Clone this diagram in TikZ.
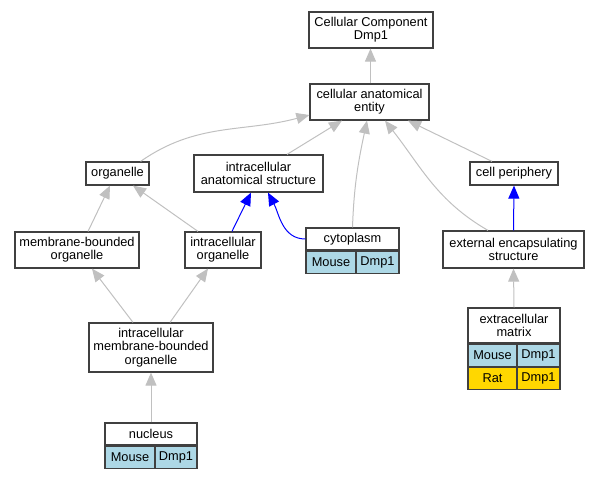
\documentclass[tikz,border=0pt]{standalone}
\usepackage{fontspec}
\setmainfont{Liberation Sans}
\usetikzlibrary{arrows.meta}
\definecolor{cellblue}{HTML}{ADD8E6}
\definecolor{cellgold}{HTML}{FFD700}
\definecolor{edgegray}{HTML}{C0C0C0}

\begin{document}
\begin{tikzpicture}[x=1pt,y=1pt,
  term/.style={draw=black!75, line width=1.2pt, fill=white, align=center, inner sep=0pt, font=\fontsize{12.8}{13.3}\selectfont},
  mouse/.style={term, fill=cellblue, minimum height=22pt},
  rat/.style={term, fill=cellgold, minimum height=22pt},
  isa/.style={draw=edgegray, line width=1pt, -{Triangle[length=13pt,width=11pt]}},
  partof/.style={draw=blue, line width=1pt, -{Triangle[length=13pt,width=11pt]}}]
\useasboundingbox (0,0) rectangle (599,-477);

\node[term, minimum width=124pt, minimum height=36pt] (cc) at (371,-30) {Cellular Component\\Dmp1};
\node[term, minimum width=119pt, minimum height=36pt] (cae) at (369.5,-102) {cellular anatomical\\entity};
\node[term, minimum width=63pt, minimum height=23pt] (org) at (117.5,-173.5) {organelle};
\node[term, minimum width=129pt, minimum height=37pt] (ias) at (258.5,-173.5) {intracellular\\anatomical structure};
\node[term, minimum width=88pt, minimum height=23pt] (cp) at (514,-173.5) {cell periphery};
\node[term, minimum width=124pt, minimum height=36pt] (mbo) at (77,-250) {membrane-bounded\\organelle};
\node[term, minimum width=76pt, minimum height=36pt] (io) at (223,-250) {intracellular\\organelle};
\node[term, minimum width=93pt, minimum height=22pt] (cyto) at (352.5,-239) {cytoplasm};
\node[mouse, minimum width=50pt, anchor=north west] (cytoM) at (cyto.south west) {Mouse};
\node[mouse, minimum width=43pt, anchor=north east] (cytoD) at (cyto.south east) {Dmp1};
\node[term, minimum width=141pt, minimum height=37pt] (ees) at (513.5,-249.5) {external encapsulating\\structure};
\node[term, minimum width=124pt, minimum height=49pt] (imbo) at (151,-347.5) {intracellular\\membrane-bounded\\organelle};
\node[term, minimum width=92pt, minimum height=35pt] (ecm) at (514,-325.5) {extracellular\\matrix};
\node[mouse, minimum width=49pt, anchor=north west] (ecmM) at (ecm.south west) {Mouse};
\node[mouse, minimum width=43pt, anchor=north east] (ecmD) at (ecm.south east) {Dmp1};
\node[rat, minimum width=49pt, anchor=north west] (ecmR) at (ecmM.south west) {Rat};
\node[rat, minimum width=43pt, anchor=north east] (ecmRD) at (ecmD.south east) {Dmp1};
\node[term, minimum width=92pt, minimum height=22pt] (nuc) at (151,-434) {nucleus};
\node[mouse, minimum width=50pt, anchor=north west] (nucM) at (nuc.south west) {Mouse};
\node[mouse, minimum width=42pt, anchor=north east] (nucD) at (nuc.south east) {Dmp1};

\draw[isa] ([xshift=1pt]cae.north) -- ([xshift=-0.5pt]cc.south);
\draw[isa] ([xshift=-9pt]org.north east) to[out=35,in=195] ([yshift=-13pt]cae.west);
\draw[isa] ([xshift=28.5pt]ias.north) -- ([xshift=-27.5pt]cae.south);
\draw[isa] (cyto.north) to[out=88,in=-102] ([xshift=-2.5pt]cae.south);
\draw[isa] ([xshift=-25.5pt]ees.north) to[out=150,in=-52] ([xshift=15.5pt]cae.south);
\draw[isa] ([xshift=-22pt]cp.north) -- ([xshift=38.5pt]cae.south);
\draw[isa] ([xshift=11pt]mbo.north) -- ([xshift=-7.5pt]org.south);
\draw[isa] ([xshift=-25pt]io.north) -- ([xshift=15.5pt]org.south);
\draw[partof] ([xshift=9pt]io.north) -- ([xshift=-7.5pt]ias.south);
\draw[partof] (cyto.west) to[out=180,in=-62] ([xshift=9.5pt]ias.south);
\draw[partof] (ees.north) -- (cp.south);
\draw[isa] (ecm.north) -- (ees.south);
\draw[isa] ([xshift=-18pt]imbo.north) -- ([xshift=15pt]mbo.south);
\draw[isa] ([xshift=19pt]imbo.north) -- ([xshift=-15pt]io.south);
\draw[isa] (nuc.north) -- (imbo.south);

\end{tikzpicture}
\end{document}
